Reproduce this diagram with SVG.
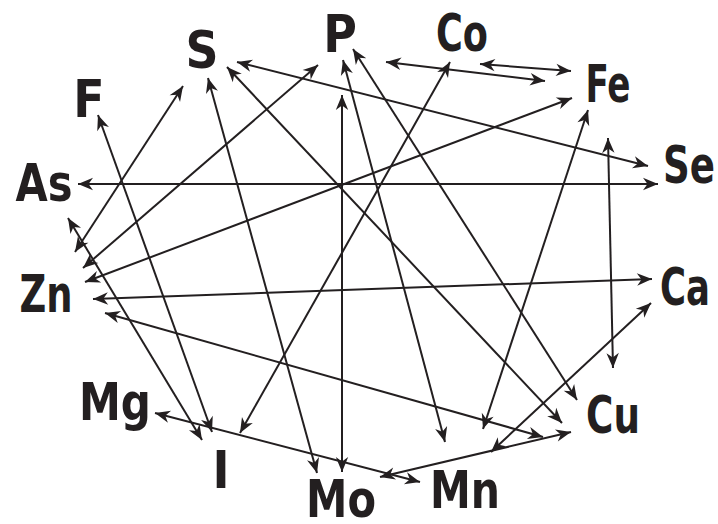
<svg xmlns="http://www.w3.org/2000/svg" width="718" height="524" viewBox="0 0 718 524">
<defs>
<style>
.lbl{font-family:"Liberation Sans Narrow","DejaVu Sans Condensed","Liberation Sans",sans-serif;font-weight:bold;font-size:51px;fill:#231f20;text-anchor:middle}
.c line{stroke:#231f20;stroke-width:2;fill:none;marker-start:url(#ah);marker-end:url(#ah)}
</style>
<marker id="ah" markerUnits="userSpaceOnUse" markerWidth="18" markerHeight="14" refX="15" refY="7" orient="auto-start-reverse" overflow="visible">
<path d="M0,0.8 L15,7 L0,13.2 L4.5,7 Z" fill="#231f20"/>
</marker>
</defs>
<rect width="718" height="524" fill="#ffffff"/>
<g id="connectors" class="c">
<line x1="183" y1="86" x2="75" y2="252"/>
<line x1="208" y1="78" x2="317" y2="473"/>
<line x1="227" y1="67" x2="562" y2="423"/>
<line x1="237" y1="62" x2="648" y2="166"/>
<line x1="318" y1="65" x2="83" y2="268"/>
<line x1="342" y1="95" x2="342" y2="472"/>
<line x1="343" y1="60" x2="445" y2="442"/>
<line x1="353" y1="49" x2="577" y2="400"/>
<line x1="386" y1="62" x2="545" y2="81"/>
<line x1="450" y1="62" x2="240" y2="433"/>
<line x1="480" y1="64" x2="571" y2="71"/>
<line x1="572" y1="98" x2="85" y2="282"/>
<line x1="588" y1="110" x2="483" y2="429"/>
<line x1="608" y1="138" x2="613" y2="368"/>
<line x1="658" y1="184" x2="78" y2="184"/>
<line x1="652" y1="279" x2="93" y2="299"/>
<line x1="651" y1="303" x2="491" y2="452"/>
<line x1="543" y1="437" x2="105" y2="313"/>
<line x1="571" y1="432" x2="380" y2="477"/>
<line x1="155" y1="413" x2="420" y2="482"/>
<line x1="68" y1="218" x2="202" y2="440"/>
<line x1="98" y1="115" x2="212" y2="432"/>
</g>
<g id="S"><text class="lbl" x="202" y="68">S</text></g>
<g id="P"><text class="lbl" x="340" y="52">P</text></g>
<g id="Co"><text class="lbl" x="462" y="51" textLength="52" lengthAdjust="spacingAndGlyphs">Co</text></g>
<g id="Fe"><text class="lbl" x="608" y="102" textLength="45" lengthAdjust="spacingAndGlyphs">Fe</text></g>
<g id="F"><text class="lbl" x="89" y="117">F</text></g>
<g id="As"><text class="lbl" x="44" y="201" textLength="57" lengthAdjust="spacingAndGlyphs">As</text></g>
<g id="Se"><text class="lbl" x="663" y="183" style="text-anchor:start" textLength="52" lengthAdjust="spacingAndGlyphs">Se</text></g>
<g id="Zn"><text class="lbl" x="46" y="312" textLength="53" lengthAdjust="spacingAndGlyphs">Zn</text></g>
<g id="Ca"><text class="lbl" x="685" y="305" textLength="50" lengthAdjust="spacingAndGlyphs">Ca</text></g>
<g id="Mg"><text class="lbl" x="115" y="420" textLength="72" lengthAdjust="spacingAndGlyphs">Mg</text></g>
<g id="I"><text class="lbl" x="221" y="488">I</text></g>
<g id="Mo"><text class="lbl" x="341" y="517" textLength="70" lengthAdjust="spacingAndGlyphs">Mo</text></g>
<g id="Mn"><text class="lbl" x="465" y="508" textLength="70" lengthAdjust="spacingAndGlyphs">Mn</text></g>
<g id="Cu"><text class="lbl" x="613" y="433" textLength="54" lengthAdjust="spacingAndGlyphs">Cu</text></g>
</svg>
